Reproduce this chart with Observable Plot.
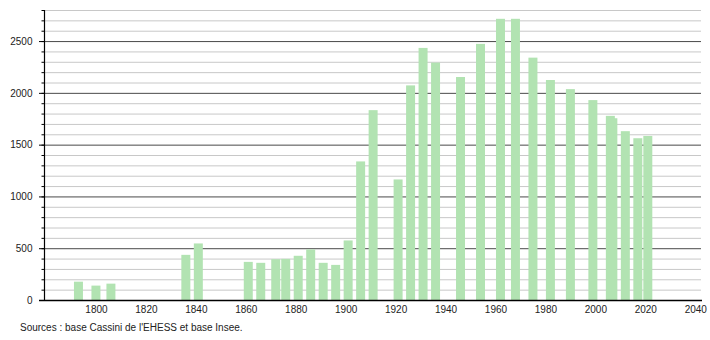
<!DOCTYPE html>
<html>
<head>
<meta charset="utf-8">
<script src="https://cdn.jsdelivr.net/npm/d3@7"></script>
<script src="https://cdn.jsdelivr.net/npm/@observablehq/plot@0.6"></script>
<style>
  body { margin: 0; background: #fff; }
  #chart svg { display: block; }
  .caption { font: 10px "Liberation Sans", Arial, sans-serif; color: #222; padding-left: 20px; margin-top: 4px; line-height: 12px; }
</style>
</head>
<body>
<div id="chart"></div>
<div class="caption">Sources : base Cassini de l'EHESS et base Insee.</div>
<script>
const years = [1793,1800,1806,1836,1841,1861,1866,1872,1876,1881,1886,1891,1896,1901,1906,1911,1921,1926,1931,1936,1946,1954,1962,1968,1975,1982,1990,1999,2006,2007,2012,2017,2021];
const population = [177,139,158,436,546,368,359,394,397,427,488,359,339,575,1338,1833,1164,2072,2434,2292,2153,2473,2715,2715,2340,2124,2036,1930,1778,1755,1630,1562,1584];
const xTicks = [1800,1820,1840,1860,1880,1900,1920,1940,1960,1980,2000,2020,2040];
const yTicks = [0,500,1000,1500,2000,2500];
const yMinor = d3.range(0, 2801, 100);

const data = years.map((y, i) => ({year: y, pop: population[i]}));
const x0 = 1779.2, x1 = 2041.9;
const halfBar = 1.8;

const chart = Plot.plot({
  width: 710,
  height: 318,
  marginTop: 10,
  marginBottom: 18,
  marginLeft: 44,
  marginRight: 10,
  style: {fontFamily: '"Liberation Sans", Arial, sans-serif', fontSize: "10px", color: "#222"},
  x: {domain: [x0, x1]},
  y: {domain: [0, 2800]},
  marks: [
    Plot.ruleY(yMinor.filter(v => v % 500 !== 0), {x1: x0, x2: x1 + 0.4, stroke: "#c8c8c8", strokeWidth: 1}),
    Plot.ruleY(yTicks.filter(v => v > 0), {x1: x0, x2: x1 + 0.4, stroke: "#4a4a4a", strokeWidth: 1}),
    Plot.rectY(data, {x1: d => d.year - halfBar, x2: d => d.year + halfBar, y: "pop", fill: "#b2e3b2"}),
    Plot.axisY(yMinor, {tickSize: 2.5, tickFormat: () => "", stroke: "#000", label: null}),
    Plot.axisY(yTicks, {tickSize: 5, tickPadding: 7, stroke: "#000", label: null, tickFormat: d => String(d)}),
    Plot.axisX(xTicks, {tickSize: 0, tickPadding: 5, label: null, tickFormat: d => String(d)}),
    Plot.ruleX([x0], {y1: 0, y2: 2800, stroke: "#000", strokeWidth: 1.2}),
    Plot.ruleY([0], {x1: x0 - 2, x2: x1 + 0.8, stroke: "#000", strokeWidth: 1.5})
  ]
});
document.getElementById("chart").appendChild(chart);
</script>
</body>
</html>
